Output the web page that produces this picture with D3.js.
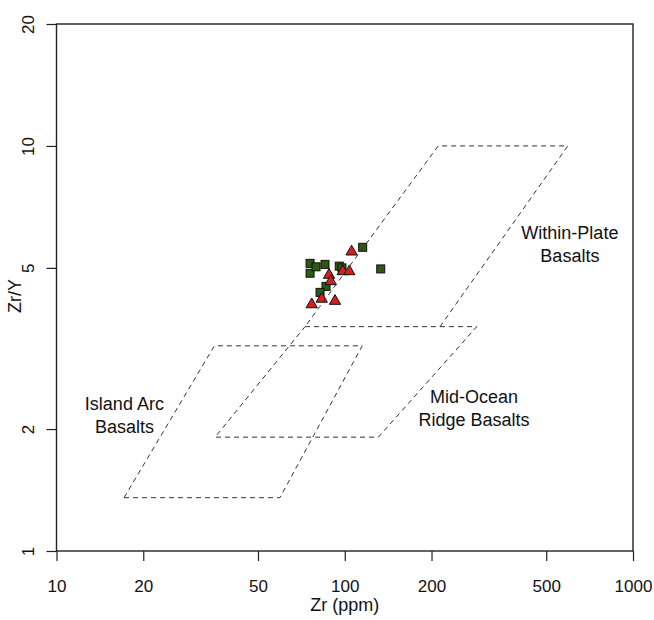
<!DOCTYPE html>
<html>
<head>
<meta charset="utf-8">
<script src="https://cdn.jsdelivr.net/npm/d3@7"></script>
<style>
  body { margin: 0; background: #fff; }
  text { font-family: "Liberation Sans", Arial, sans-serif; fill: #111; }
</style>
</head>
<body>
<div id="chart"></div>
<script>
// Zr/Y vs Zr discrimination diagram (Pearce & Norry style), log-log

var width = 654;
var height = 620;
var margin = { top: 24, right: 21, bottom: 69, left: 56.5 };

// Tick labels
var xTicks = [10, 20, 50, 100, 200, 500, 1000];
var yTicks = [1, 2, 5, 10, 20];

// Field outlines, [Zr, Zr/Y]
// within-plate is left open at the bottom: that edge is the MORB top edge
var withinPlate = [[214, 3.58], [594, 10], [211, 10], [72.8, 3.58]];
var midOceanRidge = [[72.8, 3.58], [287, 3.58], [130.8, 1.91], [35.5, 1.91]];
var islandArc = [[17.15, 1.354], [59.6, 1.354], [115, 3.21], [35.3, 3.21]];

// Samples, [Zr, Zr/Y]
var squares = [
    [115.4, 5.62], [75.8, 5.13], [75.8, 4.85], [79.5, 5.03], [85.4, 5.10],
    [95.7, 5.05], [97.8, 5.00], [133.3, 4.97], [86.1, 4.50], [82.1, 4.35]
];
var triangles = [
    [105.6, 5.48], [88.2, 4.80], [89.4, 4.63], [98.4, 4.90], [103.7, 4.90],
    [76.8, 4.06], [83.2, 4.19], [92.5, 4.14]
];

// Field names, anchored at [Zr, Zr/Y] of the first line's baseline
var fieldLabels = [
    { lines: ["Within-Plate", "Basalts"], x: 604, y: 5.89 },
    { lines: ["Island Arc", "Basalts"], x: 17.2, y: 2.23 },
    { lines: ["Mid-Ocean", "Ridge Basalts"], x: 280.8, y: 2.32 }
];

var svg = d3.select("#chart").append("svg")
    .attr("width", width)
    .attr("height", height);

var x = d3.scaleLog()
    .domain([10, 1000])
    .range([margin.left, width - margin.right]);
var y = d3.scaleLog()
    .domain([1, 20])
    .range([height - margin.bottom, margin.top]);

// Axes, R style: outward ticks, no domain line (the box covers it)
var xAxis = svg.append("g")
    .attr("transform", "translate(0," + (height - margin.bottom) + ")")
    .call(d3.axisBottom(x).tickValues(xTicks).tickFormat(d3.format("d")).tickSize(10).tickSizeOuter(0));
xAxis.select(".domain").remove();
xAxis.selectAll("line").attr("stroke", "#222").attr("stroke-width", 1.2);
xAxis.selectAll("text")
    .attr("y", 41).attr("dy", null)
    .attr("font-size", 17)
    .style("fill", "#111");

var yAxis = svg.append("g")
    .attr("transform", "translate(" + margin.left + ",0)")
    .call(d3.axisLeft(y).tickValues(yTicks).tickFormat(d3.format("d")).tickSize(10).tickSizeOuter(0));
yAxis.select(".domain").remove();
yAxis.selectAll("line").attr("stroke", "#222").attr("stroke-width", 1.2);
yAxis.selectAll("text")
    .attr("x", 0).attr("dy", null)
    .attr("text-anchor", "middle")
    .attr("transform", "translate(-23,0) rotate(-90)")
    .attr("font-size", 17)
    .style("fill", "#111");

// Plot box
svg.append("rect")
    .attr("x", margin.left)
    .attr("y", margin.top)
    .attr("width", width - margin.right - margin.left)
    .attr("height", height - margin.bottom - margin.top)
    .attr("fill", "none")
    .attr("stroke", "#222")
    .attr("stroke-width", 1.4);

// Axis titles
svg.append("text")
    .attr("x", (margin.left + width - margin.right) / 2)
    .attr("y", 611)
    .attr("text-anchor", "middle")
    .attr("font-size", 18)
    .text("Zr (ppm)");
svg.append("text")
    .attr("transform", "translate(21,296) rotate(-90)")
    .attr("text-anchor", "middle")
    .attr("font-size", 18)
    .text("Zr/Y");

// Samples
var sq = 8;
svg.append("g")
    .selectAll("rect")
    .data(squares)
    .enter()
    .append("rect")
    .attr("x", d => x(d[0]) - sq / 2)
    .attr("y", d => y(d[1]) - sq / 2)
    .attr("width", sq)
    .attr("height", sq)
    .attr("fill", "#2d5a10")
    .attr("stroke", "#111")
    .attr("stroke-width", 1);

var tri = d3.symbol().type(d3.symbolTriangle).size(55);
svg.append("g")
    .selectAll("path")
    .data(triangles)
    .enter()
    .append("path")
    .attr("d", tri)
    .attr("transform", d => "translate(" + x(d[0]) + "," + y(d[1]) + ")")
    .attr("fill", "#d42020")
    .attr("stroke", "#111")
    .attr("stroke-width", 1);

// Field outlines, drawn over the samples
var openLine = d3.line().x(d => x(d[0])).y(d => y(d[1]));
var closedLine = d3.line().x(d => x(d[0])).y(d => y(d[1])).curve(d3.curveLinearClosed);
var fields = svg.append("g")
    .attr("fill", "none")
    .attr("stroke", "#333")
    .attr("stroke-width", 1)
    .attr("stroke-dasharray", "5,4");
fields.append("path").attr("d", openLine(withinPlate));
fields.append("path").attr("d", closedLine(midOceanRidge));
fields.append("path").attr("d", closedLine(islandArc));

// Field names
var labels = svg.append("g")
    .selectAll("text")
    .data(fieldLabels)
    .enter()
    .append("text")
    .attr("text-anchor", "middle")
    .attr("font-size", 18);
labels.selectAll("tspan")
    .data(d => d.lines.map((t, i) => ({ t: t, i: i, x: d.x, y: d.y })))
    .enter()
    .append("tspan")
    .attr("x", d => x(d.x))
    .attr("y", d => y(d.y) + d.i * 23)
    .text(d => d.t);
</script>
</body>
</html>
